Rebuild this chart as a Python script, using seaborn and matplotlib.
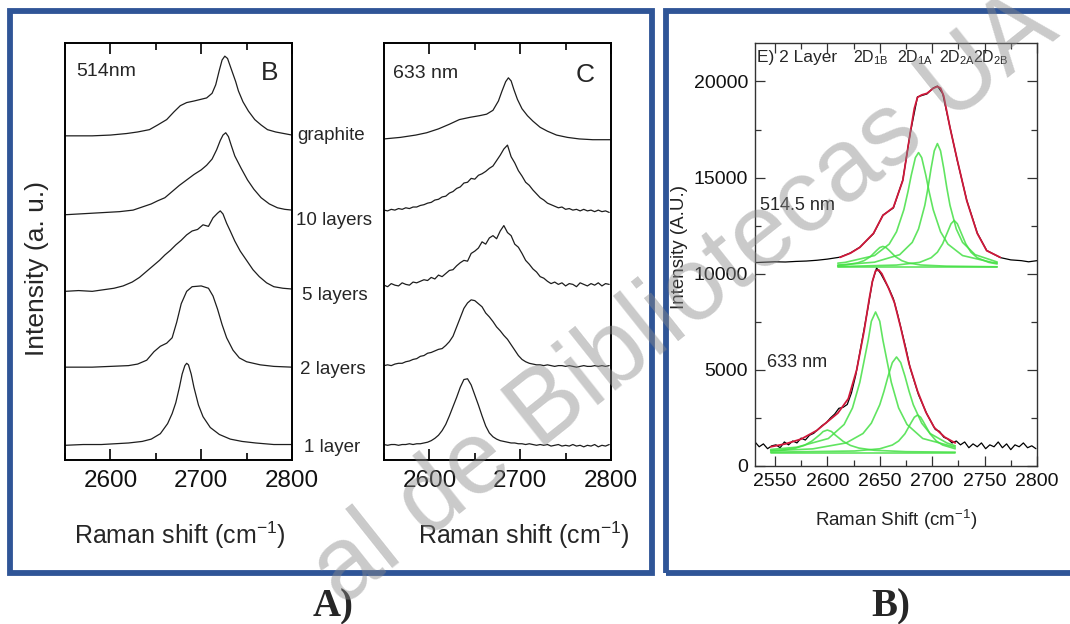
import numpy as np
import matplotlib
matplotlib.use("Agg")
import matplotlib.pyplot as plt
import seaborn as sns
from matplotlib.patches import Rectangle
from matplotlib.ticker import MultipleLocator

# ---------------------------------------------------------------- data
layer_labels = ["1 layer", "2 layers", "5 layers", "10 layers", "graphite"]

# Panel B : 514 nm, normalised 2D band (baseline 0)
b_1layer_x = [2550, 2570, 2590, 2605, 2620, 2635, 2645, 2655, 2663, 2668, 2672, 2676, 2679,
              2682, 2684, 2686, 2689, 2692, 2697, 2702, 2710, 2720, 2732, 2745, 2760, 2780, 2800]
b_1layer_y = [0.00, 0.01, 0.01, 0.02, 0.03, 0.05, 0.08, 0.15, 0.28, 0.41, 0.55, 0.75, 0.92,
              1.03, 1.06, 1.04, 0.92, 0.75, 0.52, 0.37, 0.23, 0.14, 0.08, 0.05, 0.03, 0.01, 0.01]
b_2layer_x = [2550, 2580, 2600, 2620, 2630, 2640, 2648, 2655, 2662, 2668, 2673, 2678, 2684,
              2690, 2700, 2708, 2713, 2718, 2723, 2728, 2735, 2742, 2750, 2765, 2780, 2800]
b_2layer_y = [0.00, 0.00, 0.01, 0.02, 0.04, 0.09, 0.20, 0.27, 0.31, 0.38, 0.58, 0.82, 0.98,
              1.04, 1.05, 1.02, 0.92, 0.75, 0.55, 0.38, 0.22, 0.12, 0.07, 0.03, 0.01, 0.00]
b_5layer_x = [2550, 2565, 2580, 2592, 2604, 2614, 2624, 2632, 2640, 2647, 2654, 2660, 2666,
              2672, 2678, 2684, 2690, 2696, 2702, 2708, 2713, 2718, 2721, 2724, 2728, 2732,
              2737, 2743, 2750, 2757, 2764, 2772, 2780, 2790, 2800]
b_5layer_y = [0.00, 0.01, 0.00, 0.02, 0.04, 0.07, 0.12, 0.18, 0.26, 0.33, 0.40, 0.47, 0.53,
              0.60, 0.66, 0.73, 0.78, 0.80, 0.86, 0.84, 0.95, 1.01, 1.04, 1.00, 0.88, 0.78,
              0.65, 0.52, 0.40, 0.28, 0.19, 0.11, 0.06, 0.04, 0.03]
b_10layer_x = [2550, 2565, 2580, 2595, 2610, 2625, 2635, 2645, 2652, 2660, 2668, 2676, 2684,
               2692, 2700, 2706, 2712, 2717, 2721, 2724, 2727, 2730, 2733, 2737, 2744, 2751,
               2758, 2766, 2775, 2784, 2792, 2800]
b_10layer_y = [0.00, 0.01, 0.02, 0.03, 0.04, 0.06, 0.10, 0.14, 0.18, 0.22, 0.30, 0.38, 0.45,
               0.52, 0.58, 0.64, 0.72, 0.84, 0.96, 1.03, 1.06, 1.01, 0.90, 0.76, 0.60, 0.45,
               0.33, 0.22, 0.14, 0.09, 0.07, 0.06]
b_graph_x = [2550, 2580, 2600, 2618, 2630, 2643, 2652, 2662, 2670, 2677, 2684, 2692, 2699,
             2706, 2712, 2716, 2720, 2723, 2726, 2729, 2732, 2735, 2738, 2741, 2746, 2752,
             2759, 2766, 2773, 2782, 2791, 2800]
b_graph_y = [0.00, 0.00, 0.01, 0.03, 0.05, 0.08, 0.14, 0.21, 0.31, 0.39, 0.43, 0.45, 0.47,
             0.49, 0.55, 0.66, 0.85, 0.98, 1.03, 1.00, 0.90, 0.80, 0.70, 0.58, 0.44, 0.32,
             0.21, 0.14, 0.08, 0.05, 0.03, 0.01]
b_offsets = [0.0, 1.01, 1.99, 2.98, 4.0]

# Panel C : 633 nm (noisy spectra on a 4 cm-1 grid)
c_grid = np.arange(2550, 2799, 4)
c_1layer_y = [0.01, 0.00, 0.01, 0.01, 0.00, 0.01, 0.01, 0.02, 0.01, 0.02,
              0.02, 0.03, 0.04, 0.06, 0.09, 0.13, 0.19, 0.27, 0.38, 0.50,
              0.62, 0.75, 0.85, 0.86, 0.78, 0.65, 0.52, 0.38, 0.25, 0.16,
              0.11, 0.08, 0.06, 0.05, 0.04, 0.03, 0.03, 0.02, 0.02, 0.01,
              0.02, 0.01, 0.00, 0.01, 0.00, 0.01, -0.01, 0.00, 0.01, -0.01,
              0.00, -0.01, 0.01, -0.01, 0.00, -0.02, 0.00, -0.01, 0.01, -0.02,
              0.00, -0.01, 0.01]
c_2layer_y = [0.02, 0.03, 0.02, 0.04, 0.05, 0.05, 0.07, 0.08, 0.10, 0.11,
              0.14, 0.15, 0.18, 0.19, 0.21, 0.23, 0.24, 0.28, 0.33, 0.40,
              0.52, 0.64, 0.76, 0.83, 0.87, 0.86, 0.82, 0.78, 0.70, 0.65,
              0.59, 0.52, 0.47, 0.41, 0.36, 0.29, 0.22, 0.15, 0.10, 0.07,
              0.05, 0.04, 0.03, 0.03, 0.02, 0.03, 0.02, 0.01, 0.02, 0.02,
              0.01, 0.02, 0.01, 0.00, 0.01, 0.02, 0.01, 0.01, 0.02, 0.01,
              0.02, 0.01, 0.02]
c_5layer_y = [0.02, 0.00, 0.04, 0.02, 0.01, 0.05, 0.03, 0.02, 0.06, 0.05,
              0.07, 0.09, 0.08, 0.12, 0.10, 0.15, 0.13, 0.17, 0.21, 0.22,
              0.27, 0.31, 0.34, 0.33, 0.43, 0.46, 0.50, 0.58, 0.55, 0.63,
              0.66, 0.62, 0.72, 0.79, 0.70, 0.66, 0.55, 0.51, 0.43, 0.34,
              0.29, 0.23, 0.19, 0.13, 0.11, 0.07, 0.04, 0.06, 0.03, 0.05,
              0.01, 0.04, 0.03, 0.00, 0.05, 0.03, 0.01, 0.04, 0.02, 0.05,
              0.01, 0.04, 0.03]
c_10layer_y = [0.01, 0.00, 0.02, 0.01, 0.03, 0.02, 0.04, 0.03, 0.05, 0.05,
               0.07, 0.08, 0.10, 0.11, 0.14, 0.15, 0.18, 0.19, 0.23, 0.25,
               0.29, 0.31, 0.36, 0.37, 0.42, 0.41, 0.46, 0.48, 0.51, 0.55,
               0.58, 0.65, 0.72, 0.80, 0.85, 0.70, 0.62, 0.52, 0.45, 0.37,
               0.33, 0.27, 0.22, 0.17, 0.14, 0.10, 0.08, 0.06, 0.04, 0.05,
               0.02, 0.03, 0.01, 0.02, 0.00, 0.02, 0.00, 0.01, -0.01, 0.01,
               -0.01, 0.00, -0.02]
c_graph_x = [2550, 2568, 2585, 2597, 2610, 2622, 2633, 2645, 2655, 2663, 2670, 2676, 2680,
             2684, 2687, 2690, 2693, 2697, 2702, 2708, 2714, 2722, 2730, 2740, 2752, 2765,
             2780, 2800]
c_graph_y = [0.01, 0.03, 0.06, 0.09, 0.14, 0.20, 0.26, 0.29, 0.31, 0.33, 0.38, 0.50, 0.63,
             0.75, 0.80, 0.76, 0.65, 0.52, 0.40, 0.31, 0.24, 0.16, 0.11, 0.06, 0.03, 0.01,
             0.00, 0.00]
c_offsets = [0.0, 1.01, 2.05, 3.03, 3.95]

# Panel E : 2-layer 2D band fits (intensity, A.U.)
e514_data_x = [2531, 2540, 2550, 2560, 2570, 2580, 2590, 2600, 2612, 2622, 2631, 2644, 2653,
               2663, 2672, 2679, 2686, 2695, 2701, 2705, 2710, 2717, 2724, 2733, 2743, 2752,
               2765, 2775, 2785, 2792, 2800]
e514_data_y = [10580, 10600, 10620, 10610, 10640, 10660, 10700, 10760, 10860, 11080, 11380,
               12080, 13050, 13420, 14880, 17280, 19200, 19350, 19660, 19760, 19370, 17620,
               15880, 13820, 12120, 11210, 10840, 10720, 10680, 10620, 10680]
e514_fit_x = [2612, 2622, 2631, 2644, 2653, 2663, 2672, 2679, 2683, 2686, 2690, 2695, 2701,
              2705, 2708, 2711, 2717, 2724, 2733, 2743, 2752, 2765]
e514_fit_y = [10850, 11070, 11370, 12100, 13030, 13450, 14850, 17300, 18600, 19170, 19300,
              19380, 19640, 19740, 19650, 19250, 17600, 15900, 13800, 12100, 11200, 10850]
e514_2D1B_x = [2610, 2617, 2629, 2635, 2641, 2647, 2650, 2653, 2656, 2659, 2665, 2671, 2677,
               2689, 2713, 2762]
e514_2D1B_y = [10430, 10455, 10565, 10680, 10885, 11210, 11360, 11420, 11360, 11210, 10885,
               10680, 10565, 10455, 10395, 10360]
e514_2D1A_x = [2610, 2617, 2645, 2659, 2666, 2673, 2677, 2680, 2684, 2687, 2690, 2694, 2697,
               2701, 2708, 2715, 2729, 2757, 2762]
e514_2D1A_y = [10550, 10590, 10945, 11540, 12183, 13330, 14290, 15110, 16040, 16300, 16040,
               15110, 14290, 13330, 12183, 11540, 10945, 10590, 10560]
e514_2D2A_x = [2610, 2645, 2669, 2681, 2687, 2693, 2696, 2699, 2702, 2705, 2708, 2711, 2714,
               2717, 2723, 2729, 2741, 2762]
e514_2D2A_y = [10450, 10600, 10990, 11630, 12330, 13560, 14460, 15490, 16390, 16770, 16390,
               15490, 14460, 13560, 12330, 11630, 10990, 10610]
e514_2D2B_x = [2610, 2666, 2688, 2699, 2705, 2710, 2715, 2718, 2721, 2724, 2727, 2732, 2737,
               2743, 2754, 2762]
e514_2D2B_y = [10370, 10450, 10590, 10830, 11120, 11560, 12210, 12600, 12770, 12600, 12210,
               11560, 11120, 10830, 10590, 10510]
e514_base_x = [2610, 2762]
e514_base_y = [10330, 10330]

e633_data_x = np.arange(2531, 2800, 4)
e633_data_y = [1250, 1000, 1150, 900, 1050, 1100, 950, 1250, 1100, 1300,
               1200, 1450, 1350, 1600, 1700, 1900, 2100, 2250, 2500, 2700,
               3000, 3050, 3200, 3800, 4700, 5900, 7100, 8300, 9600, 10300,
               10000, 9600, 9200, 8700, 7900, 7000, 6100, 5100, 4400, 3700,
               3200, 2700, 2300, 1900, 1800, 1500, 1400, 1200, 1300, 1100,
               1250, 950, 1150, 1000, 1200, 900, 1100, 1000, 1250, 950,
               1150, 850, 1100, 1000, 1200, 950, 1050, 900]
e633_fit_x = [2546, 2560, 2575, 2590, 2600, 2610, 2620, 2628, 2635, 2640, 2643, 2646, 2649,
              2652, 2658, 2664, 2670, 2678, 2686, 2694, 2702, 2712, 2722]
e633_fit_y = [1000, 1150, 1400, 1850, 2300, 2750, 3500, 5000, 7000, 8700, 9600, 10150, 10200,
              10000, 9300, 8500, 7200, 5300, 3900, 2800, 2000, 1500, 1200]
e633_p1_x = [2546, 2555, 2570, 2578, 2585, 2589, 2593, 2596, 2600, 2604, 2607, 2611, 2615,
             2622, 2630, 2645, 2675, 2722]
e633_p1_y = [790, 817, 934, 1071, 1285, 1460, 1636, 1793, 1870, 1793, 1636, 1460, 1285,
             1071, 934, 817, 745, 720]
e633_p2_x = [2546, 2571, 2601, 2616, 2624, 2631, 2635, 2639, 2642, 2646, 2650, 2653, 2657,
             2661, 2668, 2676, 2691, 2722]
e633_p2_y = [860, 980, 1430, 2160, 3020, 4355, 5450, 6550, 7530, 8010, 7530, 6550, 5450,
             4355, 3020, 2160, 1430, 980]
e633_p3_x = [2546, 2586, 2618, 2634, 2642, 2650, 2654, 2658, 2662, 2666, 2670, 2674, 2678,
             2682, 2690, 2698, 2714, 2722]
e633_p3_y = [790, 890, 1200, 1690, 2230, 3185, 3880, 4680, 5377, 5670, 5377, 4680, 3880,
             3185, 2230, 1690, 1200, 1050]
e633_p4_x = [2546, 2626, 2650, 2662, 2668, 2674, 2680, 2683, 2686, 2689, 2692, 2698, 2704,
             2710, 2722]
e633_p4_y = [720, 780, 895, 1090, 1300, 1675, 2260, 2535, 2650, 2535, 2260, 1675, 1300,
             1090, 895]
e633_base_x = [2546, 2722]
e633_base_y = [700, 700]

peak_labels = ["1B", "1A", "2A", "2B"]

# ---------------------------------------------------------------- style
sns.set_theme(style="white")
plt.rcParams["font.family"] = ["Liberation Sans", "DejaVu Sans"]
plt.rcParams["mathtext.default"] = "regular"

W, H = 1070, 624
fig = plt.figure(figsize=(W / 100, H / 100), dpi=100)
fig.patch.set_facecolor("white")


def fx(px):
    return px / W


def fy(py):
    return 1 - py / H


curve_col = "#1e1e1e"
red = "#d0183a"
green = "#45e045"

axB = fig.add_axes([fx(65), fy(460), (292 - 65) / W, (460 - 43) / H])
axC = fig.add_axes([fx(384), fy(460), (611 - 384) / W, (460 - 43) / H])
axE = fig.add_axes([fx(755), fy(466), (1037 - 755) / W, (466 - 43) / H])


def line(ax, xs, ys, color, lw, off=0.0, alpha=1.0, z=2):
    sns.lineplot(x=np.asarray(xs), y=np.asarray(ys, dtype=float) + off, ax=ax, color=color,
                 linewidth=lw, estimator=None, sort=False, legend=False, alpha=alpha, zorder=z)


b_curves = [(b_1layer_x, b_1layer_y), (b_2layer_x, b_2layer_y), (b_5layer_x, b_5layer_y),
            (b_10layer_x, b_10layer_y), (b_graph_x, b_graph_y)]
for (xs, ys), off in zip(b_curves, b_offsets):
    line(axB, xs, ys, curve_col, 0.9, off)

c_curves = [(c_grid, c_1layer_y), (c_grid, c_2layer_y), (c_grid, c_5layer_y),
            (c_grid, c_10layer_y), (c_graph_x, c_graph_y)]
for (xs, ys), off in zip(c_curves, c_offsets):
    line(axC, xs, ys, curve_col, 0.9, off)

for ax in (axB, axC):
    ax.set_xlim(2550, 2800)
    ax.set_ylim(-0.19, 5.2)
    ax.set_yticks([])
    ax.set_xlabel("")
    ax.set_ylabel("")
    ax.xaxis.set_major_locator(MultipleLocator(100))
    ax.xaxis.set_minor_locator(MultipleLocator(50))
    ax.tick_params(axis="x", which="both", direction="in", top=True, bottom=True,
                   labelsize=17.5, pad=7, width=1.2, color="black", labelcolor="#111")
    ax.tick_params(axis="x", which="major", length=8)
    ax.tick_params(axis="x", which="minor", length=5)
    for s in ax.spines.values():
        s.set_visible(True)
        s.set_linewidth(1.4)
        s.set_color("black")

# panel E
line(axE, e514_data_x, e514_data_y, "black", 0.9, z=2)
line(axE, e633_data_x, e633_data_y, "black", 0.9, z=2)
for xs, ys in [(e514_2D1B_x, e514_2D1B_y), (e514_2D1A_x, e514_2D1A_y),
               (e514_2D2A_x, e514_2D2A_y), (e514_2D2B_x, e514_2D2B_y),
               (e514_base_x, e514_base_y),
               (e633_p1_x, e633_p1_y), (e633_p2_x, e633_p2_y),
               (e633_p3_x, e633_p3_y), (e633_p4_x, e633_p4_y),
               (e633_base_x, e633_base_y)]:
    line(axE, xs, ys, green, 1.2, alpha=0.85, z=3)
line(axE, e514_fit_x, e514_fit_y, red, 1.3, z=4)
line(axE, e633_fit_x, e633_fit_y, red, 1.3, z=4)

axE.set_xlim(2531, 2800)
axE.set_ylim(0, 22000)
axE.set_xlabel("")
axE.set_ylabel("")
axE.xaxis.set_major_locator(MultipleLocator(50))
axE.xaxis.set_minor_locator(MultipleLocator(25))
axE.yaxis.set_major_locator(MultipleLocator(5000))
axE.yaxis.set_minor_locator(MultipleLocator(2500))
axE.tick_params(axis="both", which="both", direction="in", top=True, right=True,
                bottom=True, left=True, labelsize=14, width=0.9, color="#333",
                labelcolor="#111")
axE.tick_params(axis="both", which="major", length=7, pad=5)
axE.tick_params(axis="both", which="minor", length=4)
for s in axE.spines.values():
    s.set_visible(True)
    s.set_linewidth(1.0)
    s.set_color("#333")

# ---------------------------------------------------------------- texts
fig.text(fx(76), fy(72), "514nm", fontsize=14, va="center", ha="left")
fig.text(fx(270), fy(73), "B", fontsize=19, va="center", ha="center")
fig.text(fx(393), fy(73), "633 nm", fontsize=14, va="center", ha="left")
fig.text(fx(585), fy(75), "C", fontsize=19, va="center", ha="center")

side_pos = [(304, 447), (300, 370), (302, 296), (296, 220), (297, 136)]
for lab, (px, py) in zip(layer_labels, side_pos):
    fig.text(fx(px), fy(py), lab, fontsize=13.5, va="center", ha="left")

fig.text(fx(37), fy(269), "Intensity (a. u.)", fontsize=19, rotation=90,
         va="center", ha="center")
fig.text(fx(180), fy(535), "Raman shift (cm$^{-1}$)", fontsize=18, va="center", ha="center")
fig.text(fx(524), fy(535), "Raman shift (cm$^{-1}$)", fontsize=18, va="center", ha="center")

fig.text(fx(896), fy(520), "Raman Shift (cm$^{-1}$)", fontsize=13.5, va="center",
         ha="center", color="#222")
fig.text(fx(679), fy(247), "Intensity (A.U.)", fontsize=13.5, rotation=90,
         va="center", ha="center", color="#222")

fig.text(fx(757), fy(62), "E) 2 Layer", fontsize=12.5, va="baseline", ha="left")
for lab, px in zip(peak_labels, [853, 897, 939, 973]):
    fig.text(fx(px), fy(62), "2D$_{" + lab + "}$", fontsize=11.5, va="baseline", ha="left")

fig.text(fx(760), fy(206), "514.5 nm", fontsize=13, va="center", ha="left")
fig.text(fx(767), fy(362), "633 nm", fontsize=13, va="center", ha="left")

fig.text(fx(333), fy(607), "A)", fontsize=28, fontweight="bold", va="center", ha="center",
         family=["Liberation Serif", "DejaVu Serif"])
fig.text(fx(891), fy(607), "B)", fontsize=28, fontweight="bold", va="center", ha="center",
         family=["Liberation Serif", "DejaVu Serif"])

# frames
frame_col = "#2f5597"
fig.patches.append(Rectangle((fx(10), fy(573)), (652 - 10) / W, (573 - 11) / H,
                             transform=fig.transFigure, fill=False, edgecolor=frame_col,
                             linewidth=4.2, zorder=0))
fig.patches.append(Rectangle((fx(665.5), fy(573)), (1085 - 665.5) / W, (573 - 11) / H,
                             transform=fig.transFigure, fill=False, edgecolor=frame_col,
                             linewidth=4.2, zorder=0))

# watermark
fig.text(fx(685), fy(300), "al de Bibliotecas UA", fontsize=74, rotation=38.5,
         rotation_mode="anchor", va="center", ha="center", color="#8a8a8a", alpha=0.45,
         zorder=10)

fig.savefig("out.png", dpi=100, facecolor="white")
